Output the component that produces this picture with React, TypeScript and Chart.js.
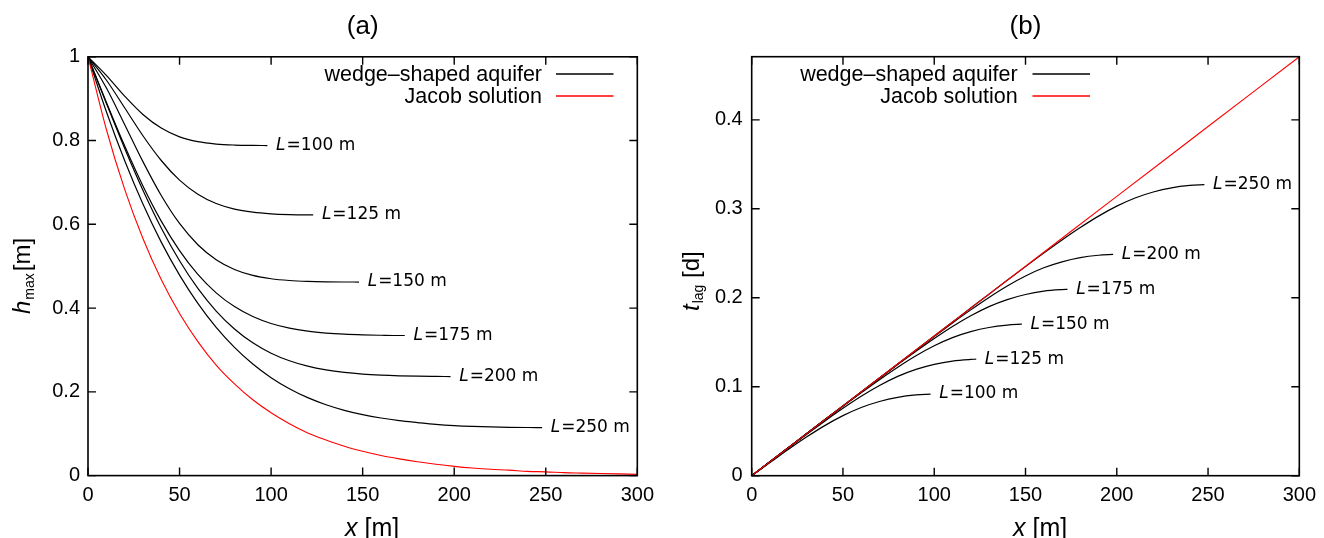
import React, { useEffect, useRef } from "react";
import { Chart, registerables } from "chart.js";

Chart.register(...registerables);

// ---------------- shared axis data ----------------
const xTicks = [0, 50, 100, 150, 200, 250, 300];
const hTicks = [0, 0.2, 0.4, 0.6, 0.8, 1];
const tTicks = [0, 0.1, 0.2, 0.3, 0.4];
const legendLabels = ["wedge–shaped aquifer", "Jacob solution"];
const aquiferLengths = [100, 125, 150, 175, 200, 250];

// x positions of the wedge-shaped aquifer curves (end just before x = L)
const x100 = [0, 10, 20, 30, 40, 50, 60, 70, 80, 90, 98];
const x125 = [0, 10, 20, 30, 40, 50, 60, 70, 80, 90, 100, 110, 120, 123];
const x150 = [0, 10, 20, 30, 40, 50, 60, 70, 80, 90, 100, 110, 120, 130, 140, 148];
const x175 = [0, 10, 20, 30, 40, 50, 60, 70, 80, 90, 100, 110, 120, 130, 140, 150, 160, 170, 173];
const x200 = [0, 10, 20, 30, 40, 50, 60, 70, 80, 90, 100, 110, 120, 130, 140, 150, 160, 170, 180, 190, 198];
const x250 = [0, 10, 20, 30, 40, 50, 60, 70, 80, 90, 100, 110, 120, 130, 140, 150, 160, 170, 180, 190, 200, 210, 220, 230, 240, 248];

// ---------------- (a) h_max ----------------
const jacobHX = [0, 10, 20, 30, 40, 50, 60, 70, 80, 90, 100, 110, 120, 130, 140, 150, 160, 170, 180, 190, 200, 210, 220, 230, 240, 250, 260, 270, 280, 290, 300];
const jacobH = [1, 0.827, 0.684, 0.566, 0.468, 0.387, 0.32, 0.264, 0.219, 0.181, 0.15, 0.124, 0.102, 0.085, 0.07, 0.058, 0.048, 0.04, 0.033, 0.027, 0.022, 0.018, 0.015, 0.013, 0.01, 0.009, 0.007, 0.006, 0.005, 0.004, 0.003];
const h100 = [1, 0.9557, 0.9063, 0.8624, 0.8298, 0.8089, 0.7973, 0.7917, 0.7893, 0.7884, 0.7881];
const h125 = [1, 0.9446, 0.8783, 0.8115, 0.7524, 0.7056, 0.6718, 0.6497, 0.6363, 0.6289, 0.6251, 0.6233, 0.6225, 0.6224];
const h150 = [1, 0.9259, 0.8386, 0.7497, 0.6689, 0.602, 0.5512, 0.5155, 0.4922, 0.478, 0.47, 0.4658, 0.4637, 0.4627, 0.4623, 0.4622];
const h175 = [1, 0.8918, 0.7874, 0.6916, 0.6077, 0.5372, 0.4805, 0.4364, 0.4035, 0.3798, 0.3632, 0.3521, 0.3449, 0.3404, 0.3376, 0.336, 0.3351, 0.3345, 0.3345];
const h200 = [1, 0.8892, 0.7816, 0.6814, 0.5913, 0.5129, 0.4469, 0.3929, 0.3501, 0.3171, 0.2923, 0.2742, 0.2613, 0.2524, 0.2464, 0.2424, 0.2399, 0.2383, 0.2373, 0.2368, 0.2365];
const h250 = [1, 0.8694, 0.7523, 0.6484, 0.5575, 0.4788, 0.4113, 0.3541, 0.3063, 0.2665, 0.2339, 0.2075, 0.1861, 0.1692, 0.1559, 0.1455, 0.1375, 0.1313, 0.1267, 0.1225, 0.1195, 0.1175, 0.1162, 0.1153, 0.1148, 0.1146];

// ---------------- (b) t_lag ----------------
const jacobTX = [0, 50, 100, 150, 200, 250, 300];
const jacobT = [0, 0.0785, 0.157, 0.2355, 0.314, 0.3925, 0.471];
const t100 = [0, 0.0147, 0.0294, 0.0434, 0.0563, 0.0675, 0.0767, 0.0834, 0.0881, 0.0908, 0.0918];
const t125 = [0, 0.0156, 0.0311, 0.0464, 0.0613, 0.0757, 0.0892, 0.1013, 0.1116, 0.1195, 0.1252, 0.1289, 0.1307, 0.131];
const t150 = [0, 0.0157, 0.0314, 0.0471, 0.0626, 0.078, 0.0932, 0.1079, 0.1219, 0.1348, 0.146, 0.1552, 0.1619, 0.1666, 0.1693, 0.1703];
const t175 = [0, 0.0157, 0.0314, 0.0471, 0.0628, 0.0785, 0.0941, 0.1096, 0.1249, 0.1398, 0.1542, 0.1677, 0.1798, 0.1901, 0.198, 0.2037, 0.2074, 0.2092, 0.2095];
const t200 = [0, 0.0157, 0.0314, 0.0471, 0.0628, 0.0785, 0.0942, 0.1099, 0.1255, 0.1411, 0.1565, 0.1717, 0.1864, 0.2004, 0.2133, 0.2245, 0.2337, 0.2404, 0.2451, 0.2478, 0.2488];
const t250 = [0, 0.0157, 0.0314, 0.0471, 0.0628, 0.0785, 0.0942, 0.1099, 0.1256, 0.1413, 0.157, 0.1727, 0.1884, 0.204, 0.2196, 0.235, 0.2502, 0.2649, 0.2789, 0.2918, 0.303, 0.3122, 0.3189, 0.3236, 0.3263, 0.3273];

const curveXs = [x100, x125, x150, x175, x200, x250];
const hCurves = [h100, h125, h150, h175, h200, h250];
const tCurves = [t100, t125, t150, t175, t200, t250];

const pts = (xs: number[], ys: number[]) => xs.map((x, i) => ({ x, y: ys[i] }));

const SANS = "'Liberation Sans', Arial, sans-serif";
const DEJAVU = "'DejaVu Sans', sans-serif";

type Part = { text: string; font: string; dy: number; gap: number };

function drawParts(ctx: CanvasRenderingContext2D, parts: Part[]) {
  let x = 0;
  for (const p of parts) {
    ctx.font = p.font;
    ctx.fillText(p.text, x, p.dy);
    x += ctx.measureText(p.text).width + p.gap;
  }
}

function makePlugin(cfg: any) {
  return {
    id: "frameAndText",
    afterDraw(chart: any) {
      const ctx: CanvasRenderingContext2D = chart.ctx;
      const a = chart.chartArea;
      const xs = chart.scales.x;
      const ys = chart.scales.y;
      ctx.save();
      // frame
      ctx.strokeStyle = "#000";
      ctx.lineWidth = 1.6;
      ctx.strokeRect(a.left, a.top, a.right - a.left, a.bottom - a.top);
      // inward mirrored ticks
      ctx.lineWidth = 1.4;
      ctx.beginPath();
      const tl = 8;
      xs.ticks.forEach((t: any) => {
        const p = xs.getPixelForValue(t.value);
        ctx.moveTo(p, a.bottom);
        ctx.lineTo(p, a.bottom - tl);
        ctx.moveTo(p, a.top);
        ctx.lineTo(p, a.top + tl);
      });
      ys.ticks.forEach((t: any) => {
        const p = ys.getPixelForValue(t.value);
        ctx.moveTo(a.left, p);
        ctx.lineTo(a.left + tl, p);
        ctx.moveTo(a.right, p);
        ctx.lineTo(a.right - tl, p);
      });
      ctx.stroke();

      ctx.fillStyle = "#000";
      // panel title
      ctx.font = `26px ${SANS}`;
      ctx.textAlign = "center";
      ctx.textBaseline = "middle";
      ctx.fillText(cfg.title, (a.left + a.right) / 2, 27);

      // legend
      ctx.textAlign = "right";
      ctx.textBaseline = "alphabetic";
      const legendColors = ["#000000", "#ff0000"];
      legendLabels.forEach((lab, i) => {
        const yb = cfg.legendBase[i];
        ctx.font = `21.5px ${SANS}`;
        ctx.fillStyle = "#000000";
        ctx.fillText(lab, cfg.legendTextRight, yb);
        ctx.beginPath();
        ctx.strokeStyle = legendColors[i];
        ctx.lineWidth = 1.3;
        ctx.moveTo(cfg.legendLine[0], cfg.legendLineY[i]);
        ctx.lineTo(cfg.legendLine[1], cfg.legendLineY[i]);
        ctx.stroke();
      });

      // curve labels L=... m
      ctx.fillStyle = "#000";
      ctx.textAlign = "left";
      ctx.textBaseline = "middle";
      aquiferLengths.forEach((L, i) => {
        const meta = chart.getDatasetMeta(i + 1);
        const last = meta.data[meta.data.length - 1];
        const x0 = xs.getPixelForValue(L) + 5;
        const y0 = last.y;
        ctx.font = `oblique 17px ${DEJAVU}`;
        ctx.fillText("L", x0, y0);
        const w = ctx.measureText("L").width;
        ctx.font = `17px ${DEJAVU}`;
        ctx.fillText(`=${L} m`, x0 + w + 1, y0);
      });

      // y-axis title (rotated)
      ctx.textAlign = "left";
      ctx.textBaseline = "alphabetic";
      ctx.save();
      ctx.translate(cfg.yTitleX, cfg.yTitleStart);
      ctx.rotate(-Math.PI / 2);
      drawParts(ctx, cfg.yTitleParts);
      ctx.restore();

      // x-axis title
      ctx.save();
      ctx.translate(cfg.xTitleStart, 536);
      drawParts(ctx, [
        { text: "x", font: `italic 25px ${SANS}`, dy: 0, gap: 0 },
        { text: " [m]", font: `25px ${SANS}`, dy: 0, gap: 0 },
      ]);
      ctx.restore();

      ctx.restore();
    },
  };
}

function buildChart(canvas: HTMLCanvasElement, p: any) {
  const datasets: any[] = [
    {
      label: legendLabels[1],
      data: pts(p.jacobX, p.jacobY),
      borderColor: "#ff0000",
      borderWidth: 1.1,
    },
    ...p.curves.map((ys: number[], i: number) => ({
      label: legendLabels[0],
      data: pts(curveXs[i], ys),
      borderColor: "#000000",
      borderWidth: 1.2,
    })),
  ];
  const tickFont = { family: SANS, size: 20 };
  return new Chart(canvas, {
    type: "line",
    data: { datasets },
    options: {
      animation: false,
      responsive: false,
      maintainAspectRatio: false,
      events: [],
      parsing: false as any,
      layout: { padding: { left: 0, top: p.plotTop, right: 662 - p.plotRight, bottom: 0 } },
      elements: {
        point: { radius: 0 },
        line: { cubicInterpolationMode: "monotone", fill: false },
      },
      plugins: {
        legend: { display: false },
        title: { display: false },
        tooltip: { enabled: false },
      },
      scales: {
        x: {
          type: "linear",
          min: 0,
          max: 300,
          grid: { display: false, drawTicks: false },
          border: { display: false },
          ticks: {
            font: tickFont,
            color: "#000",
            padding: 8,
            autoSkip: false,
            maxRotation: 0,
            callback: (v: any) => String(v),
          },
          afterBuildTicks: (s: any) => {
            s.ticks = xTicks.map((v) => ({ value: v }));
          },
          afterFit: (s: any) => {
            s.height = 538 - p.plotBottom;
          },
        },
        y: {
          type: "linear",
          min: 0,
          max: p.yMax,
          grid: { display: false, drawTicks: false },
          border: { display: false },
          ticks: {
            font: tickFont,
            color: "#000",
            padding: p.yPad,
            autoSkip: false,
            callback: (v: any) => String(v),
          },
          afterBuildTicks: (s: any) => {
            s.ticks = p.yTicks.map((v: number) => ({ value: v }));
          },
          afterFit: (s: any) => {
            s.width = p.plotLeft;
          },
        },
      },
    } as any,
    plugins: [makePlugin(p)],
  });
}

const panelA = {
  title: "(a)",
  yMax: 1,
  yTicks: hTicks,
  jacobX: jacobHX,
  jacobY: jacobH,
  curves: hCurves,
  plotTop: 56.8,
  plotBottom: 475.6,
  plotLeft: 88,
  plotRight: 640,
  yPad: 8,
  legendTextRight: 542,
  legendBase: [81, 103],
  legendLine: [556, 613.5],
  legendLineY: [74, 96],
  yTitleX: 30,
  yTitleStart: 314,
  yTitleParts: [
    { text: "h", font: `italic 24px ${SANS}`, dy: 0, gap: 1 },
    { text: "max", font: `14px ${SANS}`, dy: 4, gap: 2 },
    { text: "[m]", font: `24px ${SANS}`, dy: 0, gap: 0 },
  ],
  xTitleStart: 345,
};

const panelB = {
  title: "(b)",
  yMax: 0.471,
  yTicks: tTicks,
  jacobX: jacobTX,
  jacobY: jacobT,
  curves: tCurves,
  plotTop: 56.7,
  plotBottom: 475.7,
  plotLeft: 89.7,
  plotRight: 641.7,
  yPad: 9,
  legendTextRight: 355.7,
  legendBase: [81, 103],
  legendLine: [370.5, 428],
  legendLineY: [74, 96],
  yTitleX: 37,
  yTitleStart: 311,
  yTitleParts: [
    { text: "t", font: `italic 24px ${SANS}`, dy: 0, gap: 1 },
    { text: "lag", font: `14px ${SANS}`, dy: 4, gap: 0 },
    { text: " [d]", font: `24px ${SANS}`, dy: 0, gap: 0 },
  ],
  xTitleStart: 351,
};

export default function App() {
  const refA = useRef<HTMLCanvasElement | null>(null);
  const refB = useRef<HTMLCanvasElement | null>(null);

  useEffect(() => {
    const charts: Chart[] = [];
    if (refA.current) charts.push(buildChart(refA.current, panelA));
    if (refB.current) charts.push(buildChart(refB.current, panelB));
    return () => charts.forEach((c) => c.destroy());
  }, []);

  return (
    <div style={{ position: "absolute", left: 0, top: 0, width: 1324, height: 538, background: "#fff", overflow: "hidden" }}>
      <canvas ref={refA} width={662} height={538} style={{ position: "absolute", left: 0, top: 0, width: 662, height: 538 }} />
      <canvas ref={refB} width={662} height={538} style={{ position: "absolute", left: 662, top: 0, width: 662, height: 538 }} />
    </div>
  );
}
